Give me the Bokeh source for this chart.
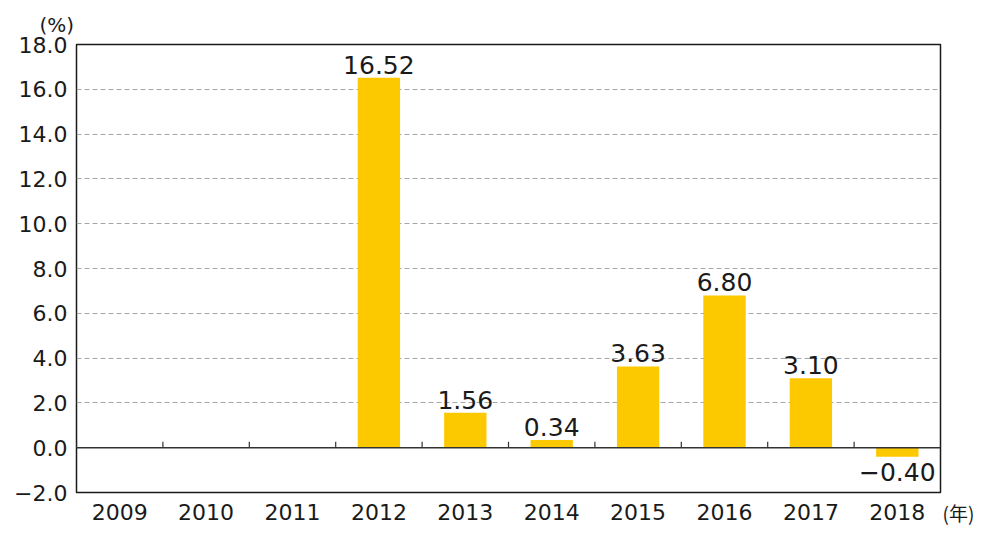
import numpy as np
import pandas as pd
from bokeh.plotting import figure
from bokeh.layouts import row
from bokeh.models import ColumnDataSource, FixedTicker, Span, CDSView, BooleanFilter
from bokeh.core.properties import value
from bokeh.transform import dodge
from bokeh.embed import file_html
from bokeh.resources import INLINE

# annual growth rate (%), no figure published for 2009-2011
years = ['2009', '2010', '2011', '2012', '2013', '2014', '2015', '2016', '2017', '2018']
growth = [np.nan, np.nan, np.nan, 16.52, 1.56, 0.34, 3.63, 6.80, 3.10, -0.40]
y_ticks = [-2, 0, 2, 4, 6, 8, 10, 12, 14, 16, 18]
y_unit = '(%)'
x_unit = '(年)'

BAR = '#FCC800'
INK = '#1a1a1a'
FONT = 'DejaVu Sans'

df = pd.DataFrame({'year': years, 'growth': growth})
df['label'] = df['growth'].map(lambda v: '' if pd.isna(v) else ('%.2f' % v).replace('-', '\u2212'))
source = ColumnDataSource(df)

p = figure(x_range=years, y_range=(-2, 18), width=942, height=528,
           output_backend="svg", toolbar_location=None,
           min_border_left=76, min_border_right=2, min_border_top=44, min_border_bottom=30)
p.background_fill_color = 'white'
p.border_fill_color = 'white'
p.outline_line_color = INK
p.outline_line_width = 1.5
p.outline_line_alpha = 1.0

# unit of the y axis, top left
p.title.text = y_unit
p.title.align = 'left'
p.title.offset = -37
p.title.standoff = 15
p.title.text_font = FONT
p.title.text_font_size = '20px'
p.title.text_font_style = 'normal'
p.title.text_color = INK

# y axis
p.yaxis.ticker = FixedTicker(ticks=y_ticks)
p.yaxis.major_label_overrides = {t: ('%.1f' % t).replace('-', '\u2212') for t in y_ticks}
p.yaxis.axis_line_color = None
p.yaxis.major_tick_line_color = None
p.yaxis.minor_tick_line_color = None
p.yaxis.major_label_text_font = FONT
p.yaxis.major_label_text_font_size = '22px'
p.yaxis.major_label_text_color = INK
p.yaxis.major_label_standoff = 3

# x axis
p.xaxis.axis_line_color = None
p.xaxis.major_tick_line_color = None
p.xaxis.major_label_text_font = FONT
p.xaxis.major_label_text_font_size = '22px'
p.xaxis.major_label_text_color = INK
p.xaxis.major_label_standoff = 5

p.xgrid.grid_line_color = None
p.ygrid.grid_line_color = '#a8a8a8'
p.ygrid.grid_line_dash = '5 3'
p.ygrid.grid_line_width = 1

p.vbar(x='year', top='growth', bottom=0, width=0.49, source=source,
       fill_color=BAR, line_color=None)

p.add_layout(Span(location=0, dimension='width', line_color='#333333', line_width=1.5))

# small tick marks between the years, sitting on the zero line
p.segment(x0=dodge('year', -0.5, range=p.x_range), y0=0,
          x1=dodge('year', -0.5, range=p.x_range), y1=0.27,
          source=source, line_color='#333333', line_width=1.2)

has_val = df['growth'].notna()
pos = list(has_val & (df['growth'] >= 0))
neg = list(has_val & (df['growth'] < 0))

p.text(x='year', y='growth', text='label', source=source, view=CDSView(filter=BooleanFilter(pos)),
       text_align='center', text_baseline='bottom', y_offset=-4,
       text_font=value(FONT), text_font_size=value('25px'), text_color=INK)
p.text(x='year', y='growth', text='label', source=source, view=CDSView(filter=BooleanFilter(neg)),
       text_align='center', text_baseline='top', y_offset=6,
       text_font=value(FONT), text_font_size=value('25px'), text_color=INK)

# narrow strip on the right; its own bottom axis carries the unit of the x axis
q = figure(width=32, height=528, x_range=(0, 1), y_range=(-2, 18),
           output_backend="svg", toolbar_location=None, y_axis_location=None,
           min_border_left=0, min_border_right=0, min_border_top=44, min_border_bottom=30)
q.grid.visible = False
q.outline_line_color = None
q.background_fill_color = 'white'
q.border_fill_color = 'white'
q.xaxis.ticker = FixedTicker(ticks=[0.5])
q.xaxis.major_label_overrides = {0.5: x_unit}
q.xaxis.axis_line_color = None
q.xaxis.major_tick_line_color = None
q.xaxis.minor_tick_line_color = None
q.xaxis.major_label_text_font = 'Noto Sans CJK JP'
q.xaxis.major_label_text_font_size = '19px'
q.xaxis.major_label_text_color = INK
q.xaxis.major_label_standoff = 0

layout = row(p, q)
open("out.html", "w").write(file_html(layout, INLINE))
